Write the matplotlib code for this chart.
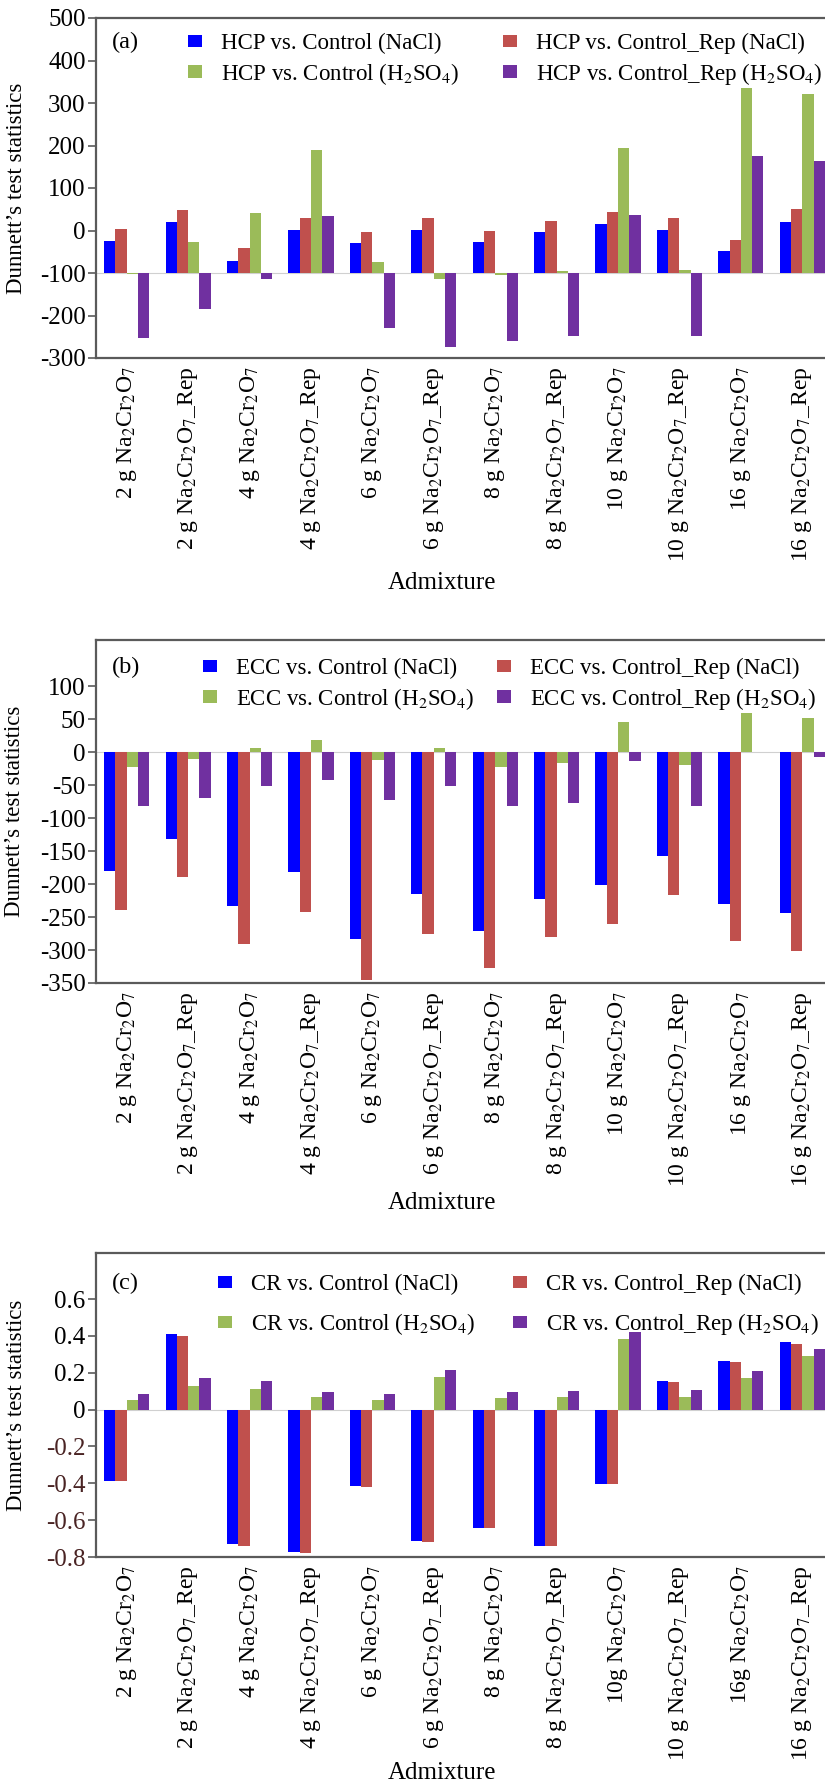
import matplotlib
matplotlib.use("Agg")
import matplotlib.pyplot as plt
import numpy as np
from matplotlib.patches import Patch
from matplotlib.ticker import FuncFormatter

plt.rcParams['font.family'] = ['Liberation Serif', 'DejaVu Serif']
plt.rcParams['mathtext.fontset'] = 'stix'
plt.rcParams['axes.unicode_minus'] = False

# ---------------- data ----------------
cats_ab = ["2 g Na$_2$Cr$_2$O$_7$", "2 g Na$_2$Cr$_2$O$_7$_Rep",
           "4 g Na$_2$Cr$_2$O$_7$", "4 g Na$_2$Cr$_2$O$_7$_Rep",
           "6 g Na$_2$Cr$_2$O$_7$", "6 g Na$_2$Cr$_2$O$_7$_Rep",
           "8 g Na$_2$Cr$_2$O$_7$", "8 g Na$_2$Cr$_2$O$_7$_Rep",
           "10 g Na$_2$Cr$_2$O$_7$", "10 g Na$_2$Cr$_2$O$_7$_Rep",
           "16 g Na$_2$Cr$_2$O$_7$", "16 g Na$_2$Cr$_2$O$_7$_Rep"]
cats_c = ["2 g Na$_2$Cr$_2$O$_7$", "2 g Na$_2$Cr$_2$O$_7$_Rep",
          "4 g Na$_2$Cr$_2$O$_7$", "4 g Na$_2$Cr$_2$O$_7$_Rep",
          "6 g Na$_2$Cr$_2$O$_7$", "6 g Na$_2$Cr$_2$O$_7$_Rep",
          "8 g Na$_2$Cr$_2$O$_7$", "8 g Na$_2$Cr$_2$O$_7$_Rep",
          "10g Na$_2$Cr$_2$O$_7$", "10 g Na$_2$Cr$_2$O$_7$_Rep",
          "16g Na$_2$Cr$_2$O$_7$", "16 g Na$_2$Cr$_2$O$_7$_Rep"]

hcp_nacl      = [-24, 21, -71, 2, -29, 2, -26, -4, 16, 2, -49, 21]
hcp_rep_nacl  = [4, 49, -42, 29, -4, 29, -2, 23, 43, 29, -23, 51]
hcp_h2so4     = [-102, -28, 42, 190, -73, -114, -105, -95, 194, -92, 335, 321]
hcp_rep_h2so4 = [-253, -184, -114, 35, -229, -273, -261, -249, 37, -248, 176, 164]

ecc_nacl      = [-180, -132, -234, -182, -284, -215, -271, -223, -201, -157, -230, -244]
ecc_rep_nacl  = [-240, -189, -291, -242, -345, -275, -328, -281, -261, -216, -287, -302]
ecc_h2so4     = [-23, -10, 7, 18, -12, 7, -23, -17, 46, -20, 60, 51]
ecc_rep_h2so4 = [-82, -70, -52, -42, -72, -52, -82, -77, -14, -81, 0, -8]

cr_nacl      = [-0.386, 0.41, -0.73, -0.775, -0.416, -0.714, -0.64, -0.739, -0.406, 0.155, 0.265, 0.365]
cr_rep_nacl  = [-0.386, 0.40, -0.74, -0.78, -0.42, -0.72, -0.643, -0.743, -0.406, 0.15, 0.26, 0.355]
cr_h2so4     = [0.053, 0.13, 0.114, 0.068, 0.053, 0.178, 0.064, 0.068, 0.385, 0.07, 0.17, 0.29]
cr_rep_h2so4 = [0.085, 0.17, 0.155, 0.098, 0.085, 0.217, 0.098, 0.103, 0.42, 0.105, 0.21, 0.33]

labels_a = ["HCP vs. Control (NaCl)", "HCP vs. Control_Rep (NaCl)",
            "HCP vs. Control (H$_2$SO$_4$)", "HCP vs. Control_Rep (H$_2$SO$_4$)"]
labels_b = ["ECC vs. Control (NaCl)", "ECC vs. Control_Rep (NaCl)",
            "ECC vs. Control (H$_2$SO$_4$)", "ECC vs. Control_Rep (H$_2$SO$_4$)"]
labels_c = ["CR vs. Control (NaCl)", "CR vs. Control_Rep (NaCl)",
            "CR vs. Control (H$_2$SO$_4$)", "CR vs. Control_Rep (H$_2$SO$_4$)"]

colors = ["#0000FF", "#C0504D", "#9BBB59", "#7030A0"]

# ---------------- figure ----------------
W, H = 825, 1784
fig = plt.figure(figsize=(W / 100, H / 100), dpi=100)

def axes_px(left, right, top, bottom):
    return fig.add_axes([left / W, 1 - bottom / H, (right - left) / W, (bottom - top) / H])

LEFT, RIGHT = 96, 833
panels = {
    'a': (18, 358),
    'b': (640, 983),
    'c': (1253, 1557),
}
ax_a = axes_px(LEFT, RIGHT, *panels['a'])
ax_b = axes_px(LEFT, RIGHT, *panels['b'])
ax_c = axes_px(LEFT, RIGHT, *panels['c'])

bw = 0.184
offsets = np.array([-1.5, -0.5, 0.5, 1.5]) * bw
spine_col = "#5a5a5a"


def to_axes(ax_key, xpx, ypx):
    top, bottom = panels[ax_key]
    return ((xpx - LEFT) / (RIGHT - LEFT), (bottom - ypx) / (bottom - top))


def draw(ax, key, cats, series, base, ylim, yticks, panel, labels,
         col_x, rows_y, labelspacing, ylab_x, xlab_y, fmt=None, neg_color=None):
    top, bottom = panels[key]
    x = np.arange(len(cats))
    for k, (vals, col) in enumerate(zip(series, colors)):
        v = np.asarray(vals, dtype=float)
        ax.bar(x + offsets[k], v - base, bottom=base, width=bw, color=col,
               edgecolor='none', zorder=2)
    ax.axhline(base, color="#d0d0d0", lw=0.8, zorder=1)
    ax.set_xlim(-0.5, len(cats) - 0.5)
    ax.set_ylim(*ylim)
    ax.set_yticks(yticks)
    if fmt is not None:
        ax.yaxis.set_major_formatter(FuncFormatter(fmt))
    ax.set_xticks(x)
    ax.set_xticklabels(cats, rotation=90, fontsize=17)
    ax.tick_params(axis='x', length=0, pad=6)
    ax.tick_params(axis='y', direction='out', length=6, width=1.2,
                   colors=spine_col, labelcolor='black', labelsize=18, pad=1.5)
    if neg_color is not None:
        for t, val in zip(ax.get_yticklabels(), yticks):
            if val < 0:
                t.set_color(neg_color)
    for s in ax.spines.values():
        s.set_color(spine_col)
        s.set_linewidth(1.6)
    ax.set_ylabel("Dunnett\u2019s test statistics", fontsize=16.5)
    ax.yaxis.set_label_coords(ylab_x, 0.5)
    ax.set_xlabel("Admixture", fontsize=18, va='center')
    ax.xaxis.set_label_coords(0.47, (bottom - xlab_y) / (bottom - top))
    lx, ly = to_axes(key, 112, rows_y[0])
    ax.text(lx, ly, panel, transform=ax.transAxes, fontsize=17.5,
            va='center', ha='left')
    # two legend columns, each with two rows
    ymid = (rows_y[0] + rows_y[1]) / 2 + 4
    pairs = [(0, 2), (1, 3)]  # column 1: NaCl, H2SO4 ; column 2: Rep NaCl, Rep H2SO4
    legs = []
    for cx, (i, j) in zip(col_x, pairs):
        hdl = [Patch(facecolor=colors[0 if i == 0 else 1]),
               Patch(facecolor=colors[2 if j == 2 else 3])]
        labs = [labels[i], labels[j]]
        leg = ax.legend(hdl, labs, loc='center left',
                        bbox_to_anchor=to_axes(key, cx, ymid),
                        frameon=False, fontsize=16.5, handlelength=0.6,
                        handleheight=0.45, handletextpad=0.85,
                        labelspacing=labelspacing, borderaxespad=0, borderpad=0)
        legs.append(leg)
    ax.add_artist(legs[0])


draw(ax_a, 'a', cats_ab, [hcp_nacl, hcp_rep_nacl, hcp_h2so4, hcp_rep_h2so4], -100,
     (-300, 500), [-300, -200, -100, 0, 100, 200, 300, 400, 500], "(a)", labels_a,
     (188, 503), (42, 70), 0.28, -0.094, 583)

draw(ax_b, 'b', cats_ab, [ecc_nacl, ecc_rep_nacl, ecc_h2so4, ecc_rep_h2so4], 0,
     (-350, 170), [-350, -300, -250, -200, -150, -100, -50, 0, 50, 100], "(b)", labels_b,
     (203, 497), (667, 695), 0.28, -0.097, 1203)

draw(ax_c, 'c', cats_c, [cr_nacl, cr_rep_nacl, cr_h2so4, cr_rep_h2so4], 0,
     (-0.8, 0.85), [-0.8, -0.6, -0.4, -0.2, 0, 0.2, 0.4, 0.6], "(c)", labels_c,
     (218, 513), (1283, 1320), 0.69, -0.094, 1773,
     fmt=lambda v, p: "0" if abs(v) < 1e-9 else f"{v:.1f}", neg_color="#4a2424")

fig.savefig("out.png", dpi=100)
